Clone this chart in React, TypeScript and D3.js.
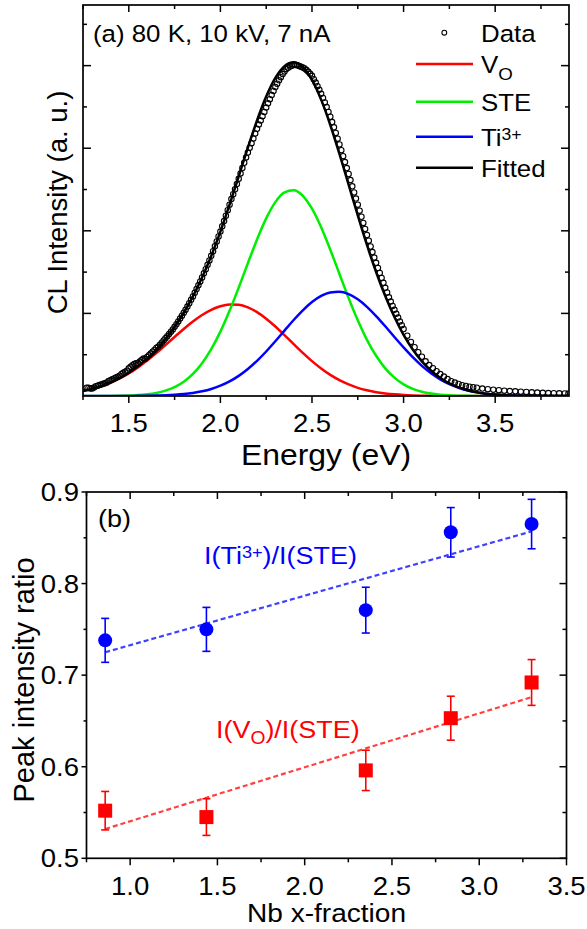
import React from "react";
import * as d3 from "d3";

// ---------- panel (a): CL spectrum at 80 K ----------
const energyGrid = [
  1.25, 1.3, 1.35, 1.4, 1.45, 1.5, 1.55, 1.6, 1.65, 1.7, 1.75, 1.8, 1.85, 1.9,
  1.95, 2.0, 2.05, 2.1, 2.15, 2.2, 2.25, 2.3, 2.35, 2.4, 2.45, 2.5, 2.55, 2.6,
  2.65, 2.7, 2.75, 2.8, 2.85, 2.9, 2.95, 3.0, 3.05, 3.1, 3.15, 3.2, 3.25, 3.3,
  3.35, 3.4, 3.45, 3.5, 3.55, 3.6, 3.65, 3.7, 3.75, 3.8, 3.85, 3.9,
];
const voComponent = [
  0.061, 0.086, 0.119, 0.16, 0.212, 0.274, 0.346, 0.429, 0.519, 0.616, 0.715,
  0.812, 0.902, 0.981, 1.044, 1.087, 1.108, 1.104, 1.073, 1.015, 0.936, 0.841,
  0.736, 0.628, 0.522, 0.422, 0.333, 0.256, 0.192, 0.14, 0.099, 0.069, 0.046,
  0.031, 0.02, 0.012, 0.007, 0.004, 0.002, 0.001, 0, 0, 0, 0, 0, 0, 0, 0, 0,
  0, 0, 0, 0, 0,
];
const steComponent = [
  0, 0, 0.001, 0.001, 0.003, 0.006, 0.011, 0.021, 0.037, 0.065, 0.108, 0.173,
  0.267, 0.397, 0.567, 0.779, 1.031, 1.312, 1.608, 1.895, 2.15, 2.347, 2.465,
  2.492, 2.424, 2.268, 2.043, 1.771, 1.477, 1.185, 0.916, 0.68, 0.487, 0.335,
  0.222, 0.141, 0.087, 0.051, 0.029, 0.016, 0.008, 0.004, 0.002, 0.001, 0, 0,
  0, 0, 0, 0, 0, 0, 0, 0,
];
const ti3Component = [
  0, 0, 0, 0, 0, 0.001, 0.002, 0.003, 0.005, 0.008, 0.014, 0.023, 0.037, 0.057,
  0.085, 0.125, 0.177, 0.244, 0.327, 0.426, 0.539, 0.663, 0.792, 0.92, 1.037,
  1.137, 1.212, 1.254, 1.261, 1.233, 1.171, 1.08, 0.968, 0.844, 0.714, 0.588,
  0.47, 0.365, 0.275, 0.202, 0.144, 0.1, 0.067, 0.044, 0.028, 0.017, 0.01,
  0.006, 0.003, 0.002, 0.001, 0, 0, 0,
];
const fittedCurve = [
  0.061, 0.086, 0.12, 0.161, 0.215, 0.281, 0.359, 0.453, 0.561, 0.689, 0.837,
  1.008, 1.206, 1.435, 1.696, 1.991, 2.316, 2.66, 3.008, 3.336, 3.625, 3.851,
  3.993, 4.04, 3.983, 3.827, 3.588, 3.281, 2.93, 2.558, 2.186, 1.829, 1.501,
  1.21, 0.956, 0.741, 0.564, 0.42, 0.306, 0.219, 0.152, 0.104, 0.069, 0.045,
  0.028, 0.017, 0.01, 0.006, 0.003, 0.002, 0.001, 0, 0, 0,
];
// measured points [energy eV, intensity]
const clData: [number, number][] = [
  [1.27, 0.101], [1.28, 0.101], [1.29, 0.091], [1.3, 0.091], [1.31, 0.102],
  [1.32, 0.118], [1.33, 0.125], [1.34, 0.132], [1.35, 0.139], [1.36, 0.147],
  [1.37, 0.155], [1.38, 0.164], [1.39, 0.183], [1.4, 0.192], [1.41, 0.202],
  [1.42, 0.212], [1.43, 0.223], [1.44, 0.234], [1.45, 0.245], [1.46, 0.267],
  [1.47, 0.28], [1.48, 0.293], [1.49, 0.306], [1.5, 0.335], [1.51, 0.355],
  [1.52, 0.372], [1.53, 0.386], [1.54, 0.398], [1.55, 0.399], [1.56, 0.417],
  [1.57, 0.435], [1.58, 0.453], [1.59, 0.452], [1.6, 0.472], [1.61, 0.493],
  [1.62, 0.514], [1.63, 0.536], [1.64, 0.558], [1.65, 0.581], [1.66, 0.595],
  [1.67, 0.62], [1.68, 0.646], [1.69, 0.672], [1.7, 0.699], [1.71, 0.724],
  [1.72, 0.751], [1.73, 0.778], [1.74, 0.806], [1.75, 0.837], [1.76, 0.87],
  [1.77, 0.903], [1.78, 0.937], [1.79, 0.972], [1.8, 1.008], [1.81, 1.045],
  [1.82, 1.083], [1.83, 1.123], [1.84, 1.164], [1.85, 1.206], [1.86, 1.249],
  [1.87, 1.294], [1.88, 1.34], [1.89, 1.387], [1.9, 1.435], [1.91, 1.485],
  [1.92, 1.536], [1.93, 1.588], [1.94, 1.642], [1.95, 1.697], [1.96, 1.754],
  [1.97, 1.812], [1.98, 1.871], [1.99, 1.931], [2.0, 1.991], [2.01, 2.054],
  [2.02, 2.118], [2.03, 2.183], [2.04, 2.249], [2.05, 2.316], [2.06, 2.384],
  [2.07, 2.443], [2.08, 2.502], [2.09, 2.566], [2.1, 2.63], [2.11, 2.695],
  [2.12, 2.759], [2.13, 2.824], [2.14, 2.888], [2.15, 2.947], [2.16, 3.005],
  [2.17, 3.061], [2.18, 3.117], [2.19, 3.177], [2.2, 3.236], [2.21, 3.286],
  [2.22, 3.335], [2.23, 3.388], [2.24, 3.44], [2.25, 3.492], [2.26, 3.544],
  [2.27, 3.594], [2.28, 3.644], [2.29, 3.693], [2.3, 3.741], [2.31, 3.782],
  [2.32, 3.822], [2.33, 3.86], [2.34, 3.898], [2.35, 3.928], [2.36, 3.958],
  [2.37, 3.973], [2.38, 3.988], [2.39, 3.999], [2.4, 4.01], [2.41, 4.008],
  [2.42, 4.005], [2.43, 3.996], [2.44, 3.987], [2.45, 3.977], [2.46, 3.966],
  [2.47, 3.946], [2.48, 3.925], [2.49, 3.901], [2.5, 3.877], [2.51, 3.836],
  [2.52, 3.795], [2.53, 3.751], [2.54, 3.707], [2.55, 3.658], [2.56, 3.609],
  [2.57, 3.554], [2.58, 3.498], [2.59, 3.44], [2.6, 3.381], [2.61, 3.317],
  [2.62, 3.253], [2.63, 3.185], [2.64, 3.116], [2.65, 3.046], [2.66, 2.976],
  [2.67, 2.904], [2.68, 2.832], [2.69, 2.76], [2.7, 2.688], [2.71, 2.614],
  [2.72, 2.539], [2.73, 2.465], [2.74, 2.39], [2.75, 2.317], [2.76, 2.244],
  [2.77, 2.17], [2.78, 2.096], [2.79, 2.023], [2.8, 1.949], [2.81, 1.88],
  [2.82, 1.81], [2.83, 1.743], [2.84, 1.676], [2.85, 1.613], [2.86, 1.55],
  [2.87, 1.49], [2.88, 1.429], [2.89, 1.37], [2.9, 1.31], [2.91, 1.253],
  [2.92, 1.195], [2.93, 1.143], [2.94, 1.091], [2.95, 1.043], [2.96, 0.995],
  [2.97, 0.949], [2.98, 0.903], [2.99, 0.857], [3.0, 0.811], [3.02, 0.73],
  [3.04, 0.655], [3.06, 0.59], [3.08, 0.53], [3.1, 0.475], [3.12, 0.42],
  [3.14, 0.375], [3.16, 0.337], [3.18, 0.3], [3.2, 0.265], [3.22, 0.235],
  [3.24, 0.205], [3.26, 0.18], [3.28, 0.162], [3.3, 0.145], [3.32, 0.131],
  [3.34, 0.121], [3.36, 0.112], [3.38, 0.106], [3.4, 0.1], [3.43, 0.09],
  [3.46, 0.083], [3.49, 0.076], [3.52, 0.07], [3.55, 0.064], [3.58, 0.06],
  [3.61, 0.056], [3.64, 0.052], [3.67, 0.049], [3.7, 0.045], [3.73, 0.042],
  [3.76, 0.039], [3.79, 0.036], [3.82, 0.034], [3.85, 0.032], [3.88, 0.03],
  [3.9, 0.029],
];
const energyTicks = [1.5, 2.0, 2.5, 3.0, 3.5];
const energyMinor = [1.25, 1.75, 2.25, 2.75, 3.25, 3.75];
const intensityTicks = [1, 2, 3, 4];
const intensityMinor = [0.5, 1.5, 2.5, 3.5, 4.5];

// ---------- panel (b): peak intensity ratios ----------
const nbFraction = [0.857, 1.437, 2.35, 2.837, 3.3];
const ti3Ratio = [0.738, 0.75, 0.771, 0.856, 0.865];
const ti3Err = [0.024, 0.024, 0.025, 0.027, 0.027];
const voRatio = [0.552, 0.545, 0.596, 0.653, 0.692];
const voErr = [0.021, 0.02, 0.022, 0.024, 0.025];
const ti3Fit: [number, number][] = [[0.857, 0.725], [3.3, 0.857]];
const voFit: [number, number][] = [[0.857, 0.532], [3.3, 0.676]];
const nbTicks = [1.0, 1.5, 2.0, 2.5, 3.0, 3.5];
const nbMinor = [0.75, 1.25, 1.75, 2.25, 2.75, 3.25];
const ratioTicks = [0.5, 0.6, 0.7, 0.8, 0.9];
const ratioMinor = [0.55, 0.65, 0.75, 0.85];

const FONT = "'Liberation Sans', Arial, Helvetica, sans-serif";
const SX = 1.1; // the original text is slightly wide
const RED = "#ff0000";
const GREEN = "#00ee00";
const BLUE = "#0000ff";

const Txt = ({ x, y, size = 24, anchor = "start", fill = "#000", children }: any) => (
  <text
    transform={`translate(${x},${y}) scale(${SX},1)`}
    fontSize={size}
    textAnchor={anchor}
    fill={fill}
    fontFamily={FONT}
  >
    {children}
  </text>
);

// tick marks along one side of a frame
const Ticks = ({ scale, values, side, at, len }: any) => (
  <g stroke="#000" strokeWidth={1.5}>
    {values.map((v: number, i: number) => {
      const p = scale(v);
      if (side === "h") return <line key={i} x1={p} x2={p} y1={at} y2={at + len} />;
      return <line key={i} x1={at} x2={at + len} y1={p} y2={p} />;
    })}
  </g>
);

export default function App() {
  // panel (a) frame
  const a = { l: 83, r: 569, t: 5, b: 396 };
  const xE = d3.scaleLinear().domain([1.25, 3.903]).range([a.l, a.r]);
  const yI = d3.scaleLinear().domain([0, 4.734]).range([a.b, a.t]);

  // panel (b) frame
  const b = { l: 86.5, r: 566.5, t: 492, b: 858.3 };
  const xN = d3.scaleLinear().domain([0.75, 3.5]).range([b.l, b.r]);
  const yR = d3.scaleLinear().domain([0.5, 0.9]).range([b.b, b.t]);

  const curve = (vals: number[]) =>
    d3
      .line<number>()
      .x((_, i) => xE(energyGrid[i]))
      .y((d) => yI(d))
      .curve(d3.curveMonotoneX)(vals) as string;

  const fitLine = d3
    .line<[number, number]>()
    .x((d) => xN(d[0]))
    .y((d) => yR(d[1]));

  return (
    <svg
      width={587}
      height={929}
      style={{ position: "absolute", left: 0, top: 0, background: "#fff" }}
      fontFamily={FONT}
    >
      {/* ===== panel (a) ===== */}
      <defs>
        <clipPath id="clipA">
          <rect x={a.l} y={a.t} width={a.r - a.l} height={a.b - a.t} />
        </clipPath>
      </defs>
      <g clipPath="url(#clipA)" fill="none" strokeWidth={2.5}>
        <path d={curve(voComponent)} stroke={RED} />
        <path d={curve(steComponent)} stroke={GREEN} />
        <path d={curve(ti3Component)} stroke={BLUE} />
        <path d={curve(fittedCurve)} stroke="#000" />
        {clData.map((d, i) => (
          <circle key={i} cx={xE(d[0])} cy={yI(d[1])} r={2.7} stroke="#000" strokeWidth={1.1} />
        ))}
      </g>
      <rect x={a.l} y={a.t} width={a.r - a.l} height={a.b - a.t} fill="none" stroke="#000" strokeWidth={1.7} />
      <Ticks scale={xE} values={energyTicks} side="h" at={a.b} len={7} />
      <Ticks scale={xE} values={energyMinor} side="h" at={a.b} len={4} />
      <Ticks scale={xE} values={energyTicks} side="h" at={a.t} len={7} />
      <Ticks scale={xE} values={energyMinor} side="h" at={a.t} len={4} />
      <Ticks scale={yI} values={intensityTicks} side="v" at={a.l} len={8} />
      <Ticks scale={yI} values={intensityMinor} side="v" at={a.l} len={4} />
      <Ticks scale={yI} values={intensityTicks} side="v" at={a.r} len={-8} />
      <Ticks scale={yI} values={intensityMinor} side="v" at={a.r} len={-4} />
      {energyTicks.map((t) => (
        <Txt key={t} x={xE(t)} y={432} size={25} anchor="middle">
          {t.toFixed(1)}
        </Txt>
      ))}
      <Txt x={(a.l + a.r) / 2} y={465} size={29} anchor="middle">
        Energy (eV)
      </Txt>
      <text
        transform={`translate(66.5,${(a.t + a.b) / 2 + 2}) rotate(-90)`}
        fontSize={27.5}
        textAnchor="middle"
        fontFamily={FONT}
      >
        CL Intensity (a. u.)
      </text>
      <Txt x={93} y={42} size={23.5}>(a) 80 K, 10 kV, 7 nA</Txt>

      {/* legend */}
      <circle cx={444.3} cy={32.7} r={2.4} fill="none" stroke="#000" strokeWidth={1.1} />
      <Txt x={481} y={42} size={23.5}>Data</Txt>
      <line x1={416} x2={473} y1={64} y2={64} stroke={RED} strokeWidth={2.5} />
      <Txt x={481} y={73} size={23.5}>
        V<tspan fontSize={17} dy={7}>O</tspan>
      </Txt>
      <line x1={416} x2={473} y1={101.7} y2={101.7} stroke={GREEN} strokeWidth={2.5} />
      <Txt x={481} y={111} size={23.5}>STE</Txt>
      <line x1={416} x2={473} y1={136.7} y2={136.7} stroke={BLUE} strokeWidth={2.5} />
      <Txt x={481} y={146} size={23.5}>
        Ti<tspan fontSize={16} dy={-6}>3+</tspan>
      </Txt>
      <line x1={416} x2={473} y1={167.7} y2={167.7} stroke="#000" strokeWidth={2.5} />
      <Txt x={481} y={177} size={23.5}>Fitted</Txt>

      {/* ===== panel (b) ===== */}
      <g fill="none" strokeWidth={2.2} strokeDasharray="5 3">
        <path d={fitLine(ti3Fit) as string} stroke={BLUE} opacity={0.75} />
        <path d={fitLine(voFit) as string} stroke={RED} opacity={0.75} />
      </g>
      {nbFraction.map((x, i) => {
        const cx = xN(x);
        return (
          <g key={i} strokeWidth={1.6}>
            <line x1={cx} x2={cx} y1={yR(ti3Ratio[i] - ti3Err[i])} y2={yR(ti3Ratio[i] + ti3Err[i])} stroke={BLUE} />
            <line x1={cx - 4} x2={cx + 4} y1={yR(ti3Ratio[i] - ti3Err[i])} y2={yR(ti3Ratio[i] - ti3Err[i])} stroke={BLUE} />
            <line x1={cx - 4} x2={cx + 4} y1={yR(ti3Ratio[i] + ti3Err[i])} y2={yR(ti3Ratio[i] + ti3Err[i])} stroke={BLUE} />
            <circle cx={cx} cy={yR(ti3Ratio[i])} r={7} fill={BLUE} />
            <line x1={cx} x2={cx} y1={yR(voRatio[i] - voErr[i])} y2={yR(voRatio[i] + voErr[i])} stroke={RED} />
            <line x1={cx - 4} x2={cx + 4} y1={yR(voRatio[i] - voErr[i])} y2={yR(voRatio[i] - voErr[i])} stroke={RED} />
            <line x1={cx - 4} x2={cx + 4} y1={yR(voRatio[i] + voErr[i])} y2={yR(voRatio[i] + voErr[i])} stroke={RED} />
            <rect x={cx - 7} y={yR(voRatio[i]) - 7} width={14} height={14} fill={RED} />
          </g>
        );
      })}
      <rect x={b.l} y={b.t} width={b.r - b.l} height={b.b - b.t} fill="none" stroke="#000" strokeWidth={1.7} />
      <Ticks scale={xN} values={nbTicks} side="h" at={b.b} len={7} />
      <Ticks scale={xN} values={nbMinor} side="h" at={b.b} len={4} />
      <Ticks scale={xN} values={nbTicks} side="h" at={b.t} len={7} />
      <Ticks scale={xN} values={nbMinor} side="h" at={b.t} len={4} />
      <Ticks scale={yR} values={ratioTicks} side="v" at={b.l} len={-5} />
      <Ticks scale={yR} values={ratioMinor} side="v" at={b.l} len={-3} />
      <Ticks scale={yR} values={ratioTicks} side="v" at={b.r} len={-7} />
      <Ticks scale={yR} values={ratioMinor} side="v" at={b.r} len={-4} />
      {nbTicks.map((t) => (
        <Txt key={t} x={xN(t)} y={895} size={25} anchor="middle">
          {t.toFixed(1)}
        </Txt>
      ))}
      {ratioTicks.map((t) => (
        <Txt key={t} x={79} y={yR(t) + 9} size={25} anchor="end">
          {t.toFixed(1)}
        </Txt>
      ))}
      <Txt x={(b.l + b.r) / 2} y={922} size={25.5} anchor="middle">
        Nb x-fraction
      </Txt>
      <text
        transform={`translate(34,680) rotate(-90)`}
        fontSize={29}
        textAnchor="middle"
        fontFamily={FONT}
      >
        Peak intensity ratio
      </text>
      <Txt x={98} y={527} size={24.5}>(b)</Txt>
      <Txt x={204} y={564} size={24.5} fill={BLUE}>
        I(Ti<tspan fontSize={16.5} dy={-6}>3+</tspan>
        <tspan dy={6}>)/I(STE)</tspan>
      </Txt>
      <Txt x={216} y={738} size={24.5} fill={RED}>
        I(V<tspan fontSize={17.5} dy={6}>O</tspan>
        <tspan dy={-6}>)/I(STE)</tspan>
      </Txt>
    </svg>
  );
}
